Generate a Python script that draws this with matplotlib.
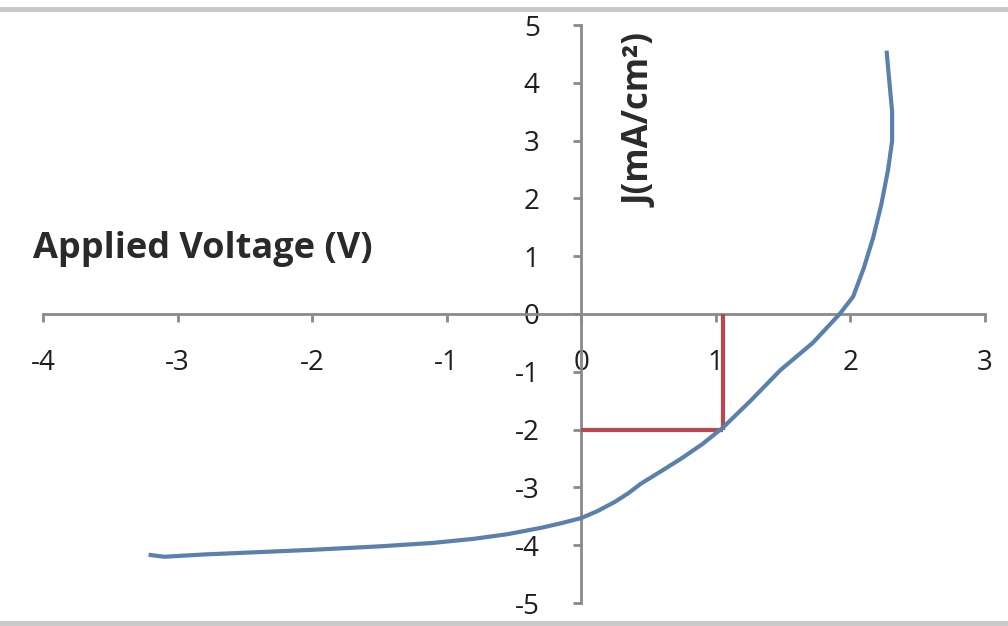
import matplotlib
matplotlib.use("Agg")
import matplotlib.pyplot as plt
from matplotlib.lines import Line2D

# ---- data ----
voltage = [-3.20, -3.10, -2.80, -2.40, -2.00, -1.50, -1.10, -0.80, -0.55, -0.30, -0.15, 0.00,
           0.12, 0.25, 0.35, 0.44, 0.60, 0.75, 0.90, 1.05, 1.25, 1.48, 1.72, 1.92, 2.02,
           2.10, 2.17, 2.23, 2.28, 2.31, 2.31, 2.29, 2.27]
current_density = [-4.17, -4.20, -4.16, -4.12, -4.08, -4.02, -3.96, -3.89, -3.81, -3.70, -3.62, -3.53,
                   -3.41, -3.25, -3.10, -2.94, -2.71, -2.49, -2.25, -1.97, -1.52, -0.97, -0.50, 0.00, 0.30,
                   0.80, 1.33, 1.90, 2.50, 3.00, 3.50, 4.00, 4.52]
v_mp = 1.05
j_mp = -2.0
x_ticks = [-4, -3, -2, -1, 0, 1, 2, 3]
y_ticks = [-5, -4, -3, -2, -1, 0, 1, 2, 3, 4, 5]
x_label = "Applied Voltage (V)"
y_label = "J(mA/cm²)"

W, H = 1008, 626
fig = plt.figure(figsize=(W / 100, H / 100), dpi=100)
ax = fig.add_axes([43 / W, (H - 603) / H, 942 / W, 578 / H])
ax.set_xlim(-4, 3)
ax.set_ylim(-5, 5)
ax.patch.set_visible(False)

axis_color = "#8a8a8a"
for side in ("top", "right"):
    ax.spines[side].set_visible(False)
ax.spines["left"].set_position(("data", 0))
ax.spines["bottom"].set_position(("data", 0))
for side in ("left", "bottom"):
    ax.spines[side].set_color(axis_color)
    ax.spines[side].set_linewidth(2.0)

font = "Open Sans"
ax.set_xticks(x_ticks)
ax.set_yticks(y_ticks)
ax.set_xticklabels([str(t) for t in x_ticks],
                   fontsize=20, fontfamily=font, color="#1e1e1e")
ax.set_yticklabels([str(t) for t in y_ticks],
                   fontsize=20, fontfamily=font, color="#1e1e1e")
ax.tick_params(axis="x", direction="out", length=6, width=2, color=axis_color, pad=19)
ax.tick_params(axis="y", direction="out", length=6, width=2, color=axis_color, pad=24)

ax.plot([0, v_mp], [j_mp, j_mp], color="#b8474f", lw=3, solid_capstyle="butt", zorder=3)
ax.plot([v_mp, v_mp], [0, j_mp], color="#b8474f", lw=3, solid_capstyle="butt", zorder=3)
ax.plot(voltage, current_density, color="#5a80ad", lw=3, solid_joinstyle="round", zorder=4)

ax.text(-2.81, 1.13, x_label, fontsize=26, fontweight="bold", fontfamily=font,
        color="#2a2a2a", ha="center", va="center")
ax.text(0.446, 3.34, y_label, fontsize=25, fontweight="bold", fontfamily=font,
        color="#2a2a2a", ha="center", va="center", rotation=90)

# image border lines (top and bottom)
fig.add_artist(Line2D([0, 1], [1 - 9 / H, 1 - 9 / H], transform=fig.transFigure,
                      color="#c8c8c8", lw=3.5))
fig.add_artist(Line2D([0, 1], [3 / H, 3 / H], transform=fig.transFigure,
                      color="#c8c8c8", lw=3.5))

fig.savefig("out.png", dpi=100)
